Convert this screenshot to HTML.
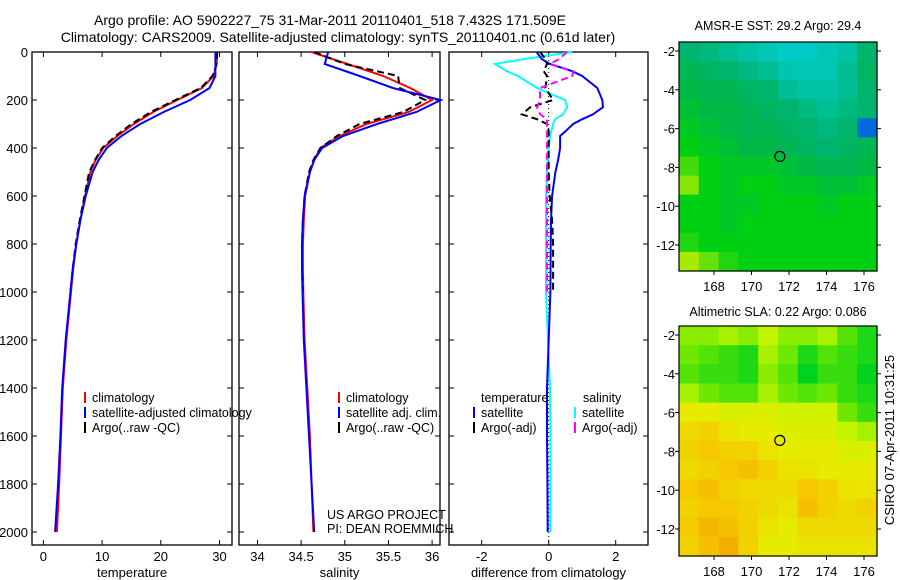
<!DOCTYPE html>
<html><head><meta charset="utf-8"><style>
body{margin:0;background:#fff;}
svg{display:block;font-family:"Liberation Sans",sans-serif;}
</style></head><body>
<svg id="c" width="900" height="580" viewBox="0 0 900 580">
<text x="330" y="25" font-size="14" text-anchor="middle">Argo profile: AO 5902227_75 31-Mar-2011 20110401_518 7.432S 171.509E</text>
<text x="338" y="42" font-size="14" text-anchor="middle">Climatology: CARS2009. Satellite-adjusted climatology: synTS_20110401.nc (0.61d later)</text>
<g id="g"></g>
</svg>
<script>
// ---- data ----
const depthsTS=[0,50,100,150,200,250,300,350,400,450,500,600,700,800,900,1000,1200,1400,1600,1800,2000];
const tempClim=[29.6,29.5,29,27,22.8,18.7,15.4,12.6,10.2,8.9,8,7.1,6.3,5.6,5.1,4.7,3.9,3.3,3.0,2.7,2.3];
const tempSat=[29.3,29.3,29.3,28.3,25,20.5,16.5,13.3,10.8,9.4,8.4,7.2,6.3,5.6,5.0,4.6,3.8,3.2,2.9,2.5,2.0];
const tempArgo=[29.6,29.5,28.8,26.8,22.5,18.3,15,12.3,10,8.8,7.8,7.0,6.2,5.5,5.0,4.6,null,null,null,null,null];
const salClim=[34.62,35.03,35.44,35.75,36.0,35.73,35.25,34.94,34.72,34.65,34.6,34.545,34.53,34.52,34.52,34.525,34.54,34.57,34.6,34.62,34.64];
const salSat=[34.81,34.77,35.17,35.55,36.1,35.82,35.37,34.98,34.74,34.65,34.6,34.54,34.52,34.51,34.51,34.515,34.53,34.56,34.59,34.62,34.65];
const salArgo=[34.65,35.0,35.61,35.63,35.92,35.67,35.17,34.91,34.72,34.64,34.59,34.54,34.52,34.51,34.51,34.52,null,null,null,null,null];
const depthsDiff=[0,30,50,80,100,150,200,230,260,280,300,330,350,400,450,500,600,700,800,1000,1200,1400,1600,1800,2000];
const diffTempSat=[-0.36,-0.2,0.04,0.7,1.0,1.45,1.6,1.62,1.32,1.0,0.73,0.5,0.34,0.34,0.28,0.2,0.1,0.07,0.06,0.05,0.0,-0.05,-0.05,-0.04,-0.03];
const diffSalSat=[0.7,-0.76,-1.6,-1.25,-0.92,-0.35,0.49,0.55,0.43,0.19,0.13,0.08,0.04,0.0,-0.03,-0.05,-0.08,-0.08,-0.08,-0.08,-0.02,0.04,0.05,0.05,0.05];
const diffTempArgo=[-0.25,-0.1,-0.05,-0.15,-0.05,-0.1,0.13,-0.55,-0.8,-0.35,-0.05,0,0,0,0,0,0.03,0.1,0.13,0.13,null,null,null,null,null];
const diffSalArgo=[0.55,0.3,0.04,0.73,0.7,-0.26,-0.26,-0.35,-0.25,-0.05,-0.05,-0.05,-0.05,-0.05,-0.05,-0.05,-0.05,-0.05,-0.05,-0.05,null,null,null,null,null];
const depthTicks=[0,200,400,600,800,1000,1200,1400,1600,1800,2000];
const tempTicks=[0,10,20,30];
const salTicks=[34,34.5,35,35.5,36];
const diffTicks=[-2,0,2];
const lonTicks=[168,170,172,174,176];
const latTicks=[-2,-4,-6,-8,-10,-12];
const sstGrid=[
[0.6,0.65,0.7,0.75,0.8,0.85,0.85,0.8,0.75,0.6],
[0.5,0.55,0.6,0.65,0.7,0.78,0.8,0.8,0.7,0.55],
[0.45,0.5,0.5,0.55,0.6,0.7,0.75,0.75,0.7,0.6],
[0.4,0.45,0.45,0.5,0.55,0.6,0.65,0.7,0.65,0.6],
[0.35,0.4,0.45,0.5,0.5,0.55,0.6,0.65,0.6,0.95],
[0.3,0.35,0.4,0.45,0.45,0.5,0.55,0.6,0.55,0.5],
[0.2,0.3,0.35,0.35,0.35,0.4,0.45,0.5,0.5,0.45],
[0.1,0.3,0.35,0.3,0.3,0.35,0.35,0.4,0.4,0.35],
[0.3,0.3,0.35,0.35,0.3,0.3,0.3,0.35,0.3,0.3],
[0.3,0.3,0.35,0.3,0.3,0.3,0.3,0.3,0.3,0.3],
[0.25,0.3,0.3,0.3,0.3,0.3,0.3,0.3,0.3,0.3],
[0.05,0.15,0.25,0.3,0.3,0.3,0.3,0.3,0.3,0.3]];
const slaGrid=[
[0.75,0.75,0.7,0.75,0.65,0.75,0.75,0.7,0.85,0.95],
[0.8,0.85,0.9,0.95,0.7,0.8,0.95,0.85,0.9,0.95],
[0.85,0.9,0.9,0.95,0.75,0.85,1.0,0.9,0.9,1.0],
[0.7,0.8,0.85,0.85,0.7,0.8,0.85,0.8,0.9,0.95],
[0.5,0.5,0.55,0.55,0.55,0.6,0.6,0.6,0.8,0.9],
[0.4,0.35,0.45,0.5,0.5,0.55,0.55,0.55,0.65,0.7],
[0.35,0.3,0.35,0.35,0.45,0.5,0.5,0.5,0.55,0.55],
[0.4,0.35,0.3,0.25,0.35,0.45,0.45,0.5,0.5,0.5],
[0.3,0.25,0.35,0.4,0.4,0.4,0.3,0.35,0.45,0.45],
[0.35,0.3,0.3,0.35,0.4,0.45,0.25,0.35,0.4,0.35],
[0.3,0.2,0.25,0.35,0.45,0.5,0.4,0.4,0.4,0.4],
[0.35,0.25,0.15,0.35,0.5,0.5,0.45,0.45,0.45,0.45]];
const floatLon=171.509, floatLat=-7.432;

// ---- drawing ----
const NS="http://www.w3.org/2000/svg";
const G=document.getElementById('g');
function mk(tag,attrs,parent){const e=document.createElementNS(NS,tag);for(const k in attrs)e.setAttribute(k,attrs[k]);(parent||G).appendChild(e);return e;}
function txt(x,y,s,size,anchor,parent){const t=mk('text',{x:x,y:y,'font-size':size,'text-anchor':anchor||'start'},parent);t.textContent=s;return t;}
const top0=52,bot=545;
const yD=d=>top0+d*0.24;
function panel(name,x0,x1,sx,ticks,label,showY){
  const g=mk('g',{});
  
  
  mk('rect',{x:x0,y:top0,width:x1-x0,height:bot-top0,fill:'none',stroke:'#000','stroke-width':1.3},g);
  ticks.forEach(v=>{const x=sx(v);
    mk('line',{x1:x,x2:x,y1:bot,y2:bot-5,stroke:'#000'},g);
    mk('line',{x1:x,x2:x,y1:top0,y2:top0+5,stroke:'#000'},g);
    const t=txt(x,561,String(v),13,'middle',g);
    
    });
  depthTicks.forEach(d=>{const y=yD(d);
    mk('line',{x1:x0,x2:x0+5,y1:y,y2:y,stroke:'#000'},g);
    mk('line',{x1:x1,x2:x1-5,y1:y,y2:y,stroke:'#000'},g);
    if(showY){const t=txt(28,y+5,String(d),13,'end',g);
      
      }});
  const l=txt((x0+x1)/2,577,label,13,'middle',g);
  
  
  return g;
}
function line(g,vals,depths,sx,color,dash,name){
  let d='',pen=false;
  vals.forEach((v,i)=>{if(v===null){pen=false;return;}d+=(pen?'L':'M')+sx(v).toFixed(1)+','+yD(depths[i]).toFixed(1);pen=true;});
  const p=mk('path',{d:d,fill:'none',stroke:color,'stroke-width':2},g);
  if(dash)p.setAttribute('stroke-dasharray',dash);
  
  
}
function legend(g,x,y,color,label){
  mk('line',{x1:x,x2:x,y1:y-10,y2:y+1,stroke:color,'stroke-width':2},g);
  const t=txt(x+7,y,label,12.5,'start',g);
  
  
}
// temperature
const sT=v=>43.4+v*5.87;
const gT=panel('temperature-panel',32,232,sT,tempTicks,'temperature',true);
line(gT,tempClim,depthsTS,sT,'#ff0000',null,'temperature-climatology-line');
line(gT,tempArgo,depthsTS,sT,'#000','7,4','temperature-argo-line');
line(gT,tempSat,depthsTS,sT,'#0000ff',null,'temperature-satellite-line');
legend(gT,85,402,'#ff0000','climatology');
legend(gT,85,417,'#0000ff','satellite-adjusted climatology');
legend(gT,85,432,'#000','Argo(..raw -QC)');
// salinity
const sS=v=>257.5+(v-34)*87.3;
const gS=panel('salinity-panel',239,440,sS,salTicks,'salinity',false);
line(gS,salClim,depthsTS,sS,'#ff0000',null,'salinity-climatology-line');
line(gS,salArgo,depthsTS,sS,'#000','7,4','salinity-argo-line');
line(gS,salSat,depthsTS,sS,'#0000ff',null,'salinity-satellite-line');
legend(gS,339,402,'#ff0000','climatology');
legend(gS,339,417,'#0000ff','satellite adj. clim.');
legend(gS,339,432,'#000','Argo(..raw -QC)');
const pa=txt(327,519,'US ARGO PROJECT',12.5,'start',gS);

const pi=txt(327,533,'PI: DEAN ROEMMICH',12.5,'start',gS);

// difference
const sD=v=>548.7+v*33.5;
const gD=panel('difference-panel',449,648,sD,diffTicks,'difference from climatology',false);
mk('line',{x1:sD(0),x2:sD(0),y1:top0,y2:bot,stroke:'#000','stroke-dasharray':'1,3'},gD);
line(gD,diffSalSat,depthsDiff,sD,'#00ffff',null,'salinity-satellite-diff-line');
line(gD,diffTempSat,depthsDiff,sD,'#0000ff',null,'temperature-satellite-diff-line');
line(gD,diffTempArgo,depthsDiff,sD,'#000','7,4','temperature-argo-diff-line');
line(gD,diffSalArgo,depthsDiff,sD,'#ff00ff','7,4','salinity-argo-diff-line');
const lt=txt(481,402,'temperature',12.5,'start',gD);
const ls=txt(583,402,'salinity',12.5,'start',gD);
legend(gD,474,417,'#0000ff','satellite');
legend(gD,474,432,'#000','Argo(-adj)');
legend(gD,575,417,'#00ffff','satellite');
legend(gD,575,432,'#ff00ff','Argo(-adj)');

// maps
function lerpC(stops,v){v=Math.max(0,Math.min(1,v));for(let i=1;i<stops.length;i++){if(v<=stops[i][0]){const a=stops[i-1],b=stops[i],t=(v-a[0])/(b[0]-a[0]);return 'rgb('+[1,2,3].map(k=>Math.round(a[k]+(b[k]-a[k])*t)).join(',')+')';}}return 'rgb(0,0,255)';}
const sstStops=[[0,200,240,0],[0.3,0,208,20],[0.45,0,184,70],[0.6,0,180,110],[0.75,0,195,165],[0.87,0,205,205],[0.93,0,150,240],[1,0,0,170]];
const slaStops=[[0,240,150,0],[0.3,245,200,0],[0.5,230,235,0],[0.65,195,245,0],[0.8,110,232,0],[1,0,210,30]];
function map(name,L,R,T,B,latRef,grid,stops,title,titleY){
  const g=mk('g',{});
  
  
  const lonX=v=>714+(v-168)*18.75;
  const latY=v=>latRef+(-2-v)*19.4;
  const rows=grid.length,cols=grid[0].length,cw=(R-L)/cols,ch=(B-T)/rows;
  grid.forEach((row,r)=>row.forEach((v,c)=>{
    const cell=mk('rect',{x:(L+c*cw).toFixed(1),y:(T+r*ch).toFixed(1),width:(cw+0.6).toFixed(1),height:(ch+0.6).toFixed(1),fill:lerpC(stops,v)},g);
    
    
  }));
  mk('rect',{x:L,y:T,width:R-L,height:B-T,fill:'none',stroke:'#000','stroke-width':1.2},g);
  lonTicks.forEach(v=>{const x=lonX(v);mk('line',{x1:x,x2:x,y1:B,y2:B+4,stroke:'#000'},g);
    const t=txt(x,B+20,String(v),13,'middle',g);});
  latTicks.forEach(v=>{const y=latY(v);mk('line',{x1:L-4,x2:L,y1:y,y2:y,stroke:'#000'},g);mk('line',{x1:R,x2:R+4,y1:y,y2:y,stroke:'#000'},g);
    const t=txt(L-4,y+5,String(v),13,'end',g);});
  const c=mk('circle',{cx:lonX(floatLon),cy:latY(floatLat),r:5,fill:'none',stroke:'#000','stroke-width':1.2},g);
  
  const tt=txt(778,titleY,title,12.5,'middle',g);
}
map('sst-map',679,877,42,271,51,sstGrid,sstStops,'AMSR-E SST: 29.2 Argo: 29.4',30);
map('sla-map',679,877,326,556,335,slaGrid,slaStops,'Altimetric SLA: 0.22 Argo: 0.086',316);
const cs=txt(0,0,'CSIRO 07-Apr-2011 10:31:25',13,'middle');
cs.setAttribute('transform','translate(894,440) rotate(-90)');


</script>
</body></html>
